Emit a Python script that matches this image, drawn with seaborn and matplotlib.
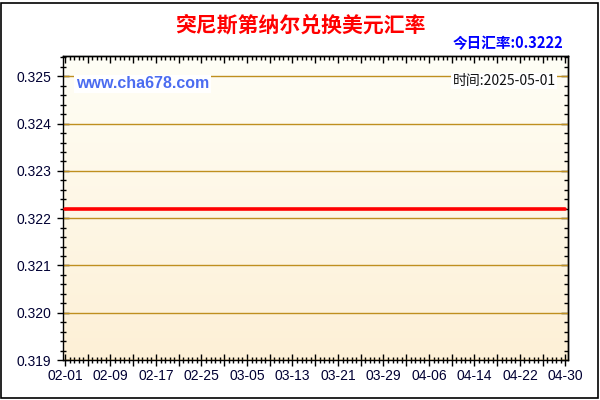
import numpy as np
import pandas as pd
import matplotlib
matplotlib.use("Agg")
import matplotlib.pyplot as plt
import matplotlib.dates as mdates
import matplotlib.ticker as mticker
from matplotlib.patches import Rectangle
import seaborn as sns

# data: daily rate, flat at 0.3222
dates = pd.date_range("2025-02-01", "2025-04-30", freq="D")
rates = [0.3222] * len(dates)
title = "突尼斯第纳尔兑换美元汇率"
today_label = "今日汇率:0.3222"
site_label = "www.cha678.com"
time_label = "时间:2025-05-01"
y_ticks = [0.319, 0.320, 0.321, 0.322, 0.323, 0.324, 0.325]

df = pd.DataFrame({"date": dates, "rate": rates})

sns.set_theme(style="ticks")
plt.rcParams["font.family"] = ["Liberation Sans", "Noto Sans CJK SC", "DejaVu Sans"]

fig = plt.figure(figsize=(6, 4), dpi=100)
ax = fig.add_axes([63 / 600, 1 - 360 / 400, (568 - 63) / 600, (360 - 56) / 400])

x0 = mdates.date2num(dates[0]) - 0.35
x1 = mdates.date2num(dates[-1]) + 0.45
y0, y1 = 0.319, 0.32543

# cream gradient background
grad = np.linspace(0, 1, 256).reshape(-1, 1)
cmap = matplotlib.colors.LinearSegmentedColormap.from_list("bg", ["#FFFEF6", "#FDF0D6"])
ax.imshow(grad, extent=[x0, x1, y0, y1], aspect="auto", cmap=cmap, origin="upper", zorder=0)

for v in y_ticks:
    ax.axhline(v, color="#BF8F1F", lw=1, zorder=1)

sns.lineplot(data=df, x="date", y="rate", color="#FF0000", lw=2.6, ax=ax, zorder=3)

ax.set_xlim(x0, x1)
ax.set_ylim(y0, y1)
ax.set_xlabel("")
ax.set_ylabel("")

base = mdates.date2num(dates[0])
major = [base + 4 * i for i in range(23)]
x_labels = [mdates.num2date(m).strftime("%m-%d") if i % 2 == 0 else "" for i, m in enumerate(major)]

ax.xaxis.set_major_locator(mticker.FixedLocator(major))
ax.xaxis.set_minor_locator(mticker.MultipleLocator(0.8))
ax.yaxis.set_major_locator(mticker.FixedLocator(y_ticks))
ax.yaxis.set_minor_locator(mticker.MultipleLocator(0.0002))
ax.xaxis.set_major_formatter(mticker.FixedFormatter(x_labels))
ax.yaxis.set_major_formatter(mticker.FormatStrFormatter("%.3f"))

ax.tick_params(which="major", direction="inout", length=9, width=1, color="black",
               labelsize=10, labelcolor="#000033", pad=2)
ax.tick_params(which="minor", direction="inout", length=5, width=1, color="black")
ax.tick_params(axis="y", which="major", pad=4)

# top and right ticks point inward only
top = ax.secondary_xaxis("top")
top.xaxis.set_major_locator(mticker.FixedLocator(major))
top.xaxis.set_minor_locator(mticker.MultipleLocator(0.8))
top.xaxis.set_major_formatter(mticker.NullFormatter())
right = ax.secondary_yaxis("right")
right.yaxis.set_major_locator(mticker.FixedLocator(y_ticks))
right.yaxis.set_minor_locator(mticker.MultipleLocator(0.0002))
right.yaxis.set_major_formatter(mticker.NullFormatter())
for a in (top, right):
    a.tick_params(which="major", direction="in", length=5, width=1, color="black")
    a.tick_params(which="minor", direction="in", length=3, width=1, color="black")
    for s in a.spines.values():
        s.set_color("black")
        s.set_linewidth(1)

for s in ax.spines.values():
    s.set_color("black")
    s.set_linewidth(1)

fig.text(300 / 600, 1 - 25 / 400, title, color="#FF0000", fontsize=15, fontweight="bold",
         ha="center", va="center", family=["Noto Sans CJK SC", "DejaVu Sans"])
fig.text(563 / 600, 1 - 43 / 400, today_label, color="#0000FF", fontsize=10.5, fontweight="bold",
         ha="right", va="center", family=["Noto Sans CJK SC", "DejaVu Sans"])
fig.text(76 / 600, 1 - 84 / 400, site_label, color="#4B6CF0", fontsize=11.5, fontweight="bold",
         ha="left", va="center", zorder=5,
         bbox=dict(boxstyle="square,pad=0.1", fc="white", ec="none"))
fig.text(556 / 600, 1 - 81 / 400, time_label, color="#111111", fontsize=10,
         ha="right", va="center", zorder=5, family=["Noto Sans CJK SC", "DejaVu Sans"],
         bbox=dict(boxstyle="square,pad=0.1", fc="white", ec="none"))

fig.patches.append(Rectangle((0.5 / 600, 2.5 / 400), 597 / 600, 395 / 400,
                             transform=fig.transFigure, fill=False, ec="black", lw=1.2))

fig.savefig("out.png", dpi=100)
